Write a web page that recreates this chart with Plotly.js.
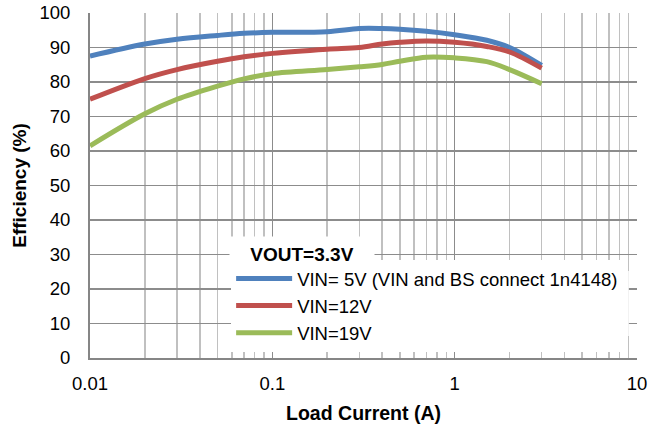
<!DOCTYPE html>
<html>
<head>
<meta charset="utf-8">
<script src="https://cdn.plot.ly/plotly-3.0.1.min.js"></script>
<style>
html,body{margin:0;padding:0;background:#fff;}
#chart{width:664px;height:432px;}
</style>
</head>
<body>
<div id="chart"></div>
<script>
// Load current (A)
const current = [0.01, 0.02, 0.03, 0.05, 0.07, 0.1, 0.2, 0.3, 0.4, 0.5, 0.7, 1, 1.5, 2, 3];
// Efficiency (%)
const eff5V  = [87.5, 91.0, 92.4, 93.5, 94.1, 94.4, 94.6, 95.5, 95.5, 95.3, 94.7, 93.7, 92.1, 90.0, 84.8];
const eff12V = [75.0, 81.0, 83.6, 86.0, 87.3, 88.3, 89.5, 90.0, 91.0, 91.5, 91.9, 91.5, 90.3, 88.7, 84.0];
const eff19V = [61.5, 70.8, 75.0, 78.8, 80.9, 82.4, 83.6, 84.4, 85.1, 86.0, 87.2, 87.0, 85.9, 83.6, 79.5];

const seriesNames = ["VIN= 5V (VIN and BS connect 1n4148)", "VIN=12V", "VIN=19V"];
const seriesColors = ["#4F81BD", "#C0504D", "#9BBB59"];
const legendTitle = "VOUT=3.3V";
const xTickVals = [0.01, 0.1, 1, 10];
const xTickText = ["0.01", "0.1", "1", "10"];
const xMinorVals = [];
[0.01, 0.1, 1].forEach(d => { for (let k = 2; k <= 9; k++) xMinorVals.push(+(d * k).toPrecision(3)); });

const FONT = "Liberation Sans, Arial, sans-serif";
const traces = [eff5V, eff12V, eff19V].map((ys, i) => ({
  x: current, y: ys, type: "scatter", mode: "lines", name: seriesNames[i],
  line: {color: seriesColors[i], width: 5, shape: "spline", smoothing: 1}
}));

const layout = {
  width: 664, height: 432,
  margin: {l: 90, r: 27, t: 13, b: 74},
  paper_bgcolor: "#fff", plot_bgcolor: "#fff",
  font: {family: FONT, size: 18, color: "#000"},
  showlegend: true,
  xaxis: {
    type: "log", range: [-2, 1],
    tickmode: "array", tickvals: xTickVals, ticktext: xTickText,
    showgrid: true, gridcolor: "#8c8c8c", gridwidth: 1.5,
    minor: {tickmode: "array", tickvals: xMinorVals, showgrid: true, gridcolor: "#c0c0c0", gridwidth: 1.5, ticks: ""},
    showline: true, linecolor: "#868686", linewidth: 2,
    ticks: "outside", ticklen: 8, tickcolor: "rgba(0,0,0,0)",
    tickfont: {size: 18.5, family: FONT},
    zeroline: false,
    title: {text: "<b>Load Current (A)</b>", font: {size: 19.5, family: FONT}, standoff: 13}
  },
  yaxis: {
    range: [0, 100], dtick: 10, tick0: 0,
    showgrid: true, gridcolor: "#8c8c8c", gridwidth: 1.5,
    showline: true, linecolor: "#868686", linewidth: 2,
    ticks: "outside", ticklen: 14, tickcolor: "rgba(0,0,0,0)",
    tickfont: {size: 18.5, family: FONT},
    zeroline: false,
    title: {text: "<b>Efficiency (%)</b>", font: {size: 19, family: FONT}, standoff: 8}
  },
  legend: {
    x: 0.258, y: 0.284, xanchor: "left", yanchor: "top",
    bgcolor: "#fff", borderwidth: 0,
    font: {size: 18.5, family: FONT},
    tracegroupgap: 0, itemwidth: 56
  },
  shapes: [{
    type: "rect", xref: "paper", yref: "paper",
    x0: 0.26, x1: 0.985, y0: 0.064, y1: 0.252,
    fillcolor: "#fff", line: {width: 0}, layer: "above"
  }],
  annotations: [{
    text: "<b>" + legendTitle + "</b>", xref: "paper", yref: "paper",
    x: 0.388, y: 0.301, xanchor: "center", yanchor: "middle",
    showarrow: false, bgcolor: "#fff", width: 142, height: 33,
    font: {size: 19, family: FONT}
  }]
};

Plotly.newPlot("chart", traces, layout, {staticPlot: true, displayModeBar: false});
</script>
</body>
</html>
